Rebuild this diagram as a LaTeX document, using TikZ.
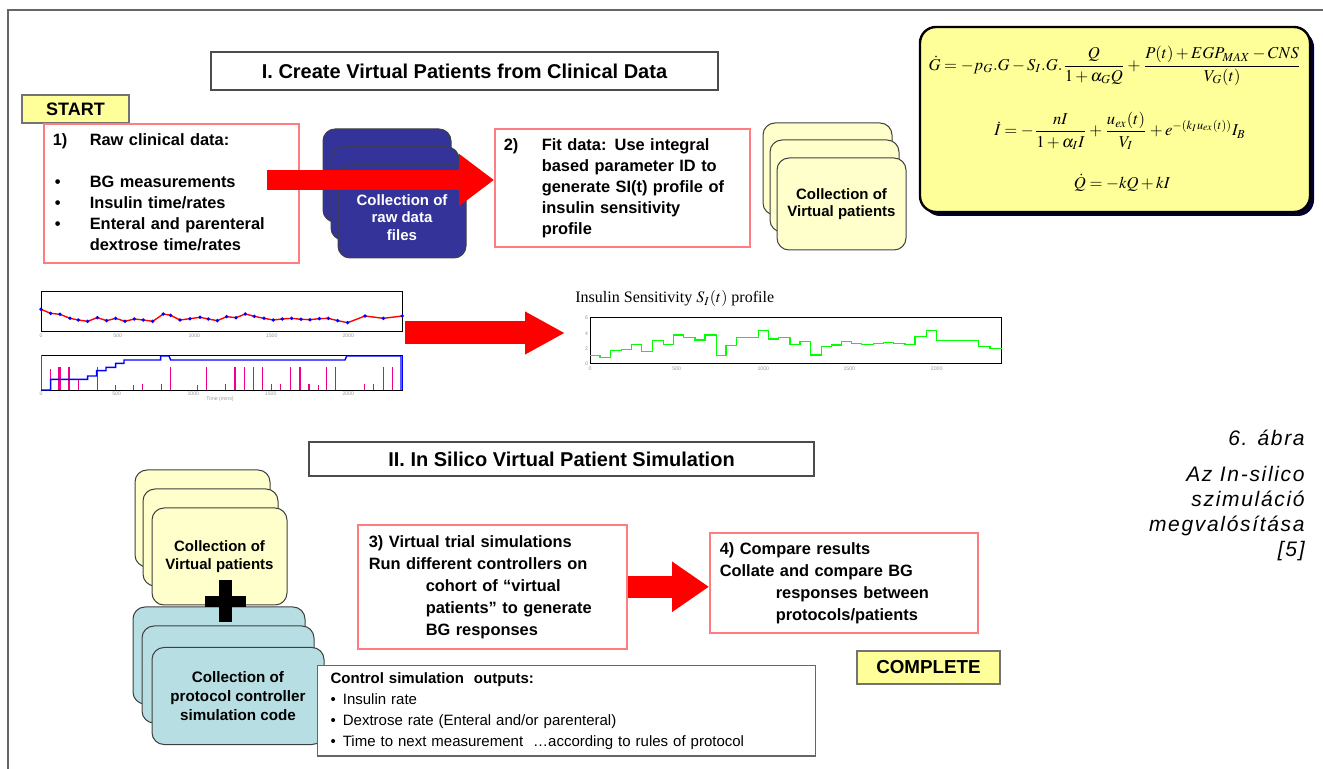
\documentclass[tikz,border=0pt]{standalone}
\usepackage{mathptmx}
\usepackage[no-math]{fontspec}
\setmainfont{Liberation Sans}
\newfontfamily\timesfont{Liberation Serif}
\newfontfamily\capfont[LetterSpace=8]{Liberation Sans}
\usetikzlibrary{arrows.meta, positioning, shadows}
\definecolor{tagyellow}{HTML}{FFFF99}
\definecolor{vpyellow}{HTML}{FFFFCC}
\definecolor{rawblue}{HTML}{333399}
\definecolor{ctrlblue}{HTML}{B7DEE3}
\definecolor{shadownavy}{HTML}{000033}
\definecolor{boxred}{HTML}{FF7C80}

\begin{document}
\begin{tikzpicture}[x=0.5pt, y=-0.5pt,
    redbox/.style={draw=boxred, fill=white, line width=0.8pt, anchor=north west, align=left, font=\fontsize{8.2}{10.5}\selectfont\bfseries},
    headbox/.style={draw=black!70, fill=white, line width=0.6pt, inner sep=0pt, font=\fontsize{10}{12}\selectfont\bfseries},
    tagbox/.style={draw=black!55, fill=tagyellow, line width=0.8pt, inner sep=0pt, font=\fontsize{9}{11}\selectfont\bfseries},
    cardtext/.style={inner sep=0pt, align=center, font=\fontsize{7.5}{8.8}\selectfont\bfseries},
    card/.style={cardtext, draw=black!75, line width=0.5pt, rounded corners=6pt},
    rawcard/.style={card, fill=rawblue, text=white, minimum width=64pt, minimum height=46.5pt},
    vpcard/.style={card, fill=vpyellow, minimum width=64.5pt, minimum height=46pt},
    vpcardII/.style={card, fill=vpyellow, minimum width=67.5pt, minimum height=48.5pt},
    ctrlcard/.style={card, fill=ctrlblue, minimum width=86pt, minimum height=48.5pt, font=\fontsize{7.6}{9.5}\selectfont\bfseries},
    eqn/.style={font=\fontsize{8.3}{10}\selectfont, inner sep=0pt},
    bigarrow/.style={draw=red, line width=10pt, -{Triangle[length=17.5pt, width=25pt]}},
    ticklab/.style={font=\fontsize{2.6}{3}\selectfont, text=black!40, inner sep=0.5pt}]
\useasboundingbox (0,0) rectangle (1323,769);
\draw[black!60, line width=0.8pt] (8,769) -- (8,10) -- (1323,10);

% I. create virtual patients
\node[headbox, minimum width=253.5pt, minimum height=19pt] (headI) at (464.5,71) {I. Create Virtual Patients from Clinical Data};
\node[tagbox, minimum width=53.5pt, minimum height=14pt] (start) at (75.5,109) {START};
\node[redbox, minimum width=127.5pt, minimum height=69.5pt, text width=118.5pt, inner xsep=4.5pt] (rawdata) at (43,123)
  {\begin{tabular}{@{}p{18.5pt}@{}l@{}}
   1) & Raw clinical data:\\
      & \\
   \hspace{1pt}\textbullet & BG measurements\\
   \hspace{1pt}\textbullet & Insulin time/rates\\
   \hspace{1pt}\textbullet & Enteral and parenteral\\
      & dextrose time/rates
   \end{tabular}};
\node[rawcard] (rawA) at (387,175.5) {};
\node[rawcard] (rawB) at (395,193.5) {};
\node[rawcard] (rawC) at (402,211.5) {};
\node[cardtext, text=white, yshift=-3pt] (rawtxt) at (rawC) {Collection of\\raw data\\files};
\node[redbox, minimum width=127.5pt, minimum height=58pt, text width=118.5pt, inner xsep=4.5pt] (fitdata) at (494,128)
  {\begin{tabular}{@{}p{19pt}@{}l@{}}
   2) & Fit data: Use integral\\
      & based parameter ID to\\
      & generate SI(t) profile of\\
      & insulin sensitivity\\
      & profile
   \end{tabular}};
\coordinate (rawout) at (267,180);
\draw[bigarrow] (rawout) -- (rawout -| fitdata.west);
\node[vpcard] (vpA) at (827.5,169) {};
\node[vpcard] (vpB) at (834.5,186) {};
\node[vpcard] (vpC) at (841.5,204) {Collection of\\Virtual patients};

% model equations
\node[draw=black, line width=1.2pt, fill=tagyellow, rounded corners=8pt, minimum width=195pt, minimum height=92.5pt,
      drop shadow={shadow xshift=2pt, shadow yshift=-2pt, fill=shadownavy, opacity=1}] (model) at (1115,119.5) {};
\node[eqn] (eqG) at (1115,66)
  {$\displaystyle \dot{G} = -p_G.G - S_I.G.\frac{Q}{1+\alpha_G Q} + \frac{P(t)+EGP_{MAX}-CNS}{V_G(t)}$};
\node[eqn] (eqI) at (1120,131)
  {$\displaystyle \dot{I} = -\frac{nI}{1+\alpha_I I} + \frac{u_{ex}(t)}{V_I} + e^{-(k_I u_{ex}(t))} I_B$};
\node[eqn] (eqQ) at (1122,183) {$\dot{Q} = -kQ + kI$};

% raw data plots
\begin{scope}[shift={(20,280)}, x=0.16667pt, y=-0.16667pt]
  \draw[black, line width=0.4pt] (63,33) rectangle (1147,155);
  \draw[red, line width=0.7pt, mark=*, mark options={blue, scale=0.22}] plot coordinates {(63,88) (92,100) (120,103) (150,115) (175,120) (203,124) (232,113) (260,122) (287,115) (315,124) (343,117) (370,120) (398,124) (430,102) (452,106) (480,120) (510,116) (540,112) (565,117) (592,122) (620,110) (648,113) (676,102) (703,109) (732,115) (760,120) (787,117) (815,115) (843,118) (870,119) (898,116) (925,115) (953,122) (983,128) (1035,108) (1090,115) (1147,108)};
  \foreach \tx/\tl in {63/0, 293/500, 523/1000, 755/1500, 985/2000}
    \node[ticklab] at (\tx,168) {\tl};
  \draw[black, line width=0.4pt] (63,225) rectangle (1147,330);
  \draw[magenta, line width=0.4pt] (63,225) -- (63,330);
  \draw[blue, line width=0.4pt] (1147,225) -- (1147,330);
  \foreach \bx/\by in {92/268, 117/262, 120/262, 147/262, 175/300, 232/262, 287/315, 340/315, 368/312, 424/312, 452/262, 532/315, 560/262, 617/312, 645/262, 673/262, 700/262, 727/262, 755/312, 782/312, 812/262, 840/262, 867/312, 895/315, 920/262, 947/262, 1033/312, 1060/312, 1090/262, 1117/262}
    \draw[magenta, line width=0.6pt] (\bx,330) -- (\bx,\by);
  \draw[blue, line width=0.7pt] (63,330) -- (92,330) -- (92,298) -- (203,298) -- (203,288) -- (230,288) -- (230,272) -- (258,272) -- (258,262) -- (287,262) -- (287,250) -- (312,250) -- (312,240) -- (422,240) -- (422,228) -- (447,228) -- (452,240) -- (975,240) -- (980,228) -- (1143,228) -- (1143,330);
  \foreach \tx/\tl in {63/0, 290/500, 520/1000, 752/1500, 985/2000}
    \node[ticklab] at (\tx,342) {\tl};
  \node[ticklab] at (600,356) {Time (mins)};
\end{scope}
\coordinate (plotout) at (405,333);
\coordinate (siin) at (565,333);
\draw[bigarrow, line width=11.5pt, -{Triangle[length=20pt, width=20pt]}] (plotout) -- (siin);

% insulin sensitivity profile
\node[anchor=west, inner sep=0pt, font=\timesfont\fontsize{8}{10}\selectfont] (sititle) at (575,299) {Insulin Sensitivity $S_I(t)$ profile};
\begin{scope}[shift={(560,285)}, x=0.16667pt, y=-0.16667pt]
  \draw[black, line width=0.4pt] (90,97) rectangle (1325,235);
  \draw[green, line width=0.6pt] plot[const plot] coordinates {(90,212) (120,218) (152,197) (185,193) (215,178) (245,200) (278,167) (310,178) (340,150) (370,157) (405,165) (435,150) (470,212) (498,182) (530,157) (565,158) (595,137) (625,162) (655,157) (690,178) (720,170) (752,210) (785,185) (815,180) (845,170) (875,175) (905,178) (940,175) (970,172) (1000,175) (1035,178) (1065,155) (1100,137) (1130,166) (1255,185) (1290,190) (1325,190)};
  \foreach \tx/\tl in {90/0, 350/500, 610/1000, 868/1500, 1130/2000}
    \node[ticklab] at (\tx,250) {\tl};
  \foreach \ty/\tl in {235/0, 190/2, 145/4, 97/6}
    \node[ticklab] at (80,\ty) {\tl};
\end{scope}

% II. in silico simulation
\node[headbox, minimum width=252.5pt, minimum height=17pt] (headII) at (561.5,459) {II. In Silico Virtual Patient Simulation};
\node[vpcardII] (cohortA) at (202.5,518.5) {};
\node[vpcardII] (cohortB) at (210.5,537.5) {};
\node[vpcardII] (cohortC) at (219.5,556.5) {Collection of\\Virtual patients};
\node[ctrlcard] (ctrlA) at (219,655.5) {};
\node[ctrlcard] (ctrlB) at (228,674.5) {};
\node[ctrlcard] (ctrlC) at (238,696) {Collection of\\protocol controller\\simulation code};
\draw[black, line width=6.5pt] (225.5,580) -- (225.5,622);
\draw[black, line width=5.5pt] (205,601.5) -- (246,601.5);
\node[draw=black!60, fill=white, line width=0.6pt, anchor=north west, minimum width=244.5pt, minimum height=45pt, text width=236pt, inner xsep=6.5pt, align=left, font=\fontsize{7.5}{10.5}\selectfont] (outputs) at (317,665)
  {\textbf{Control simulation\ \ outputs:}\\
   \textbullet\hspace{3.5pt}Insulin rate\\
   \textbullet\hspace{3.5pt}Dextrose rate (Enteral\ and/or parenteral)\\
   \textbullet\hspace{3.5pt}Time to next measurement\ \ …according to rules of protocol};
\node[redbox, minimum width=134.5pt, minimum height=62pt, text width=123.5pt, inner xsep=5.5pt, font=\fontsize{8.2}{11}\selectfont\bfseries] (trial) at (357,524)
  {3) Virtual trial simulations\\
   Run different controllers on\\
   \hspace*{28.5pt}cohort of “virtual\\
   \hspace*{28.5pt}patients” to generate\\
   \hspace*{28.5pt}BG responses};
\node[redbox, minimum width=134pt, minimum height=50pt, text width=124pt, inner xsep=5pt, font=\fontsize{8.2}{11}\selectfont\bfseries] (compare) at (709,532)
  {4) Compare results\\
   Collate and compare BG\\
   \hspace*{28pt}responses between\\
   \hspace*{28pt}protocols/patients};
\draw[bigarrow, line width=11pt, -{Triangle[length=18.5pt, width=24pt]}] (trial.east) -- (trial.east -| compare.west);
\node[tagbox, minimum width=71.5pt, minimum height=16.5pt, font=\fontsize{9.4}{11}\selectfont\bfseries] (complete) at (928.5,667.5) {COMPLETE};

% caption
\node[anchor=base east, inner sep=0pt, font=\capfont\itshape\fontsize{10.5}{12.5}\selectfont] (figno) at (1305,446) {6. ábra};
\node[anchor=north east, align=right, inner sep=0pt, font=\capfont\itshape\fontsize{10.5}{12.5}\selectfont] (figcap) at (1305,466)
  {Az In-silico\\szimuláció\\megvalósítása\\{[5]}};
\end{tikzpicture}
\end{document}
